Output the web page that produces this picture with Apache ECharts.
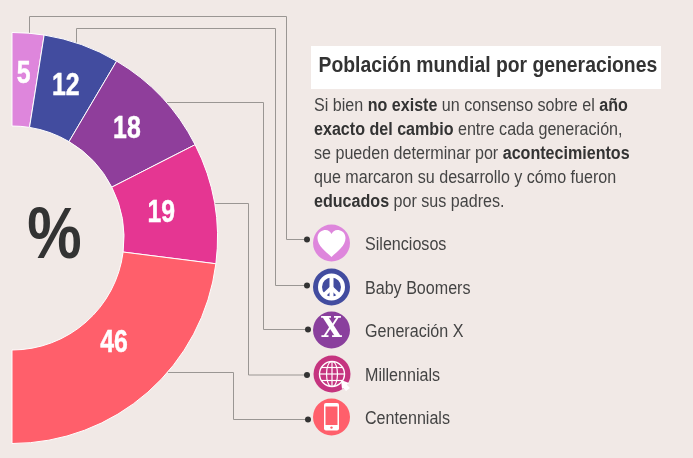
<!DOCTYPE html>
<html><head><meta charset="utf-8">
<style>html,body{margin:0;padding:0;background:#F1E9E6}#c{width:693px;height:458px}</style>
<script src="https://cdn.jsdelivr.net/npm/echarts@6/dist/echarts.min.js"></script>
</head><body><div id="c"></div>
<script>
const categories = ['Silenciosos','Baby Boomers','Generación X','Millennials','Centennials'];
const values = [5,12,18,19,46];
const colors = ['#DE86DC','#424C9F','#8F3E9B','#E53692','#FF5F6B'];
const iconColors = ['#DE86DC','#424C9F','#8A3F9D','#C5347F','#FF5F6B'];
const title = 'Población mundial por generaciones';
const bodyLines = [
 'Si bien {b|no existe} un consenso sobre el {b|año}',
 '{b|exacto del cambio} entre cada generación,',
 'se pueden determinar por {b|acontecimientos}',
 'que marcaron su desarrollo y cómo fueron',
 '{b|educados} por sus padres.'
];
const FONT = '"Liberation Sans",sans-serif';
const labelOffsets = [[-1,-2],[-1,1],[-3,2],[-10,3],[-5,-16]];
const leaders = [
 [[29.5,33],[29.5,16.5],[286.5,16.5],[286.5,239.5],[307,239.5]],
 [[76.5,45],[76.5,28.5],[275.5,28.5],[275.5,285.5],[307,285.5]],
 [[165,102.5],[263.5,102.5],[263.5,329.5],[308,329.5]],
 [[213,203.5],[248.5,203.5],[248.5,375],[307,375]],
 [[168,372.5],[233.5,372.5],[233.5,419.5],[308,419.5]]
];
const iconCentres = [[331.5,243],[331.5,287],[331.5,330],[332,374],[331.5,417]];
const G=echarts.graphic;
G.registerShape('iconHeart',G.extendPath('M0 14 C-6 8 -14 3 -14 -5 C-14 -11 -9 -13 -6 -13 C-3 -13 -1 -11 0 -9 C1 -11 3 -13 6 -13 C9 -13 14 -11 14 -5 C14 3 6 8 0 14Z',{}));
G.registerShape('iconMeridian',G.extendPath('M0 -12.5 C7.3 -12.5 7.3 12.5 0 12.5 C-7.3 12.5 -7.3 -12.5 0 -12.5Z',{}));
G.registerShape('iconCursor',G.extendPath('M9 6 L17 9 L15 11 L18 14 L14 17 L11.5 14 L10 15Z',{}));
const W='#fff';
const line=(x1,y1,x2,y2,lw)=>({type:'line',silent:true,shape:{x1,y1,x2,y2},style:{stroke:W,lineWidth:lw||2}});
const iconParts = [
 (c)=>[{type:'iconHeart',silent:true,shape:{},style:{fill:W}}],
 (c)=>[{type:'circle',silent:true,shape:{cx:0,cy:0,r:11.5},style:{fill:'none',stroke:W,lineWidth:4}},line(0,-12,0,12,4),line(0,1,-8.5,9,4),line(0,1,8.5,9,4)],
 (c)=>[{type:'text',silent:true,style:{text:'X',x:0,y:0,align:'center',verticalAlign:'middle',fill:W,font:'bold 27px "DejaVu Serif"'}}],
 (c)=>[{type:'circle',silent:true,shape:{cx:0,cy:0,r:12.5},style:{fill:'none',stroke:W,lineWidth:1.4}},
       {type:'iconMeridian',silent:true,shape:{},style:{fill:'none',stroke:W,lineWidth:1.2}},
       line(0,-12.5,0,12.5,1.2),line(-12.5,0,12.5,0,1.2),line(-10.5,-6.5,10.5,-6.5,1.2),line(-10.5,6.5,10.5,6.5,1.2),
       {type:'iconCursor',silent:true,shape:{},style:{fill:W}}],
 (c)=>[{type:'rect',silent:true,shape:{x:-7.5,y:-14,width:15,height:27.5,r:2},style:{fill:W}},
       {type:'rect',silent:true,shape:{x:-6,y:-10.5,width:12,height:18.5},style:{fill:c}},
       {type:'circle',silent:true,shape:{cx:0,cy:10.6,r:1.2},style:{fill:c}}]
];
const g=[];
g.push({type:'rect',silent:true,shape:{x:311,y:46,width:350,height:43},style:{fill:'#fff'}});
g.push({type:'text',silent:true,x:318.5,y:66,scaleX:0.86,style:{text:title,x:0,y:0,verticalAlign:'middle',fill:'#333',font:'bold 22.5px '+FONT}});
bodyLines.forEach((t,i)=>g.push({type:'text',silent:true,x:314,y:106+i*24,scaleX:0.88,style:{text:t,x:0,y:0,verticalAlign:'middle',fill:'#444',font:'18.3px '+FONT,rich:{b:{fontFamily:FONT,fontWeight:'bold',fontSize:18.3,fill:'#333'}}}}));
g.push({type:'text',silent:true,x:54.5,y:238,scaleX:0.85,style:{text:'%',x:0,y:0,align:'center',verticalAlign:'middle',fill:'#333',font:'bold 72px '+FONT}});
leaders.forEach((pts,i)=>{
 g.push({type:'polyline',silent:true,shape:{points:pts},style:{fill:'none',stroke:'#9A9693',lineWidth:1}});
 const e=pts[pts.length-1];
 g.push({type:'circle',silent:true,shape:{cx:e[0],cy:e[1],r:3},style:{fill:'#333'}});
});
categories.forEach((n,i)=>{
 const [x,y]=iconCentres[i];
 g.push({type:'group',x,y,silent:true,children:[{type:'circle',silent:true,shape:{cx:0,cy:0,r:18.5},style:{fill:iconColors[i]}}].concat(iconParts[i](iconColors[i]))});
 g.push({type:'text',silent:true,x:365,y:y+1.5,scaleX:0.88,style:{text:n,x:0,y:0,verticalAlign:'middle',fill:'#444',font:'18.3px '+FONT}});
});
const chart=echarts.init(document.getElementById('c'),null,{renderer:'canvas'});
chart.setOption({
 animation:false,
 backgroundColor:'#F1E9E6',
 series:[{
  type:'pie',silent:true,center:[12,238],radius:[112,205.5],
  startAngle:90,endAngle:-90,clockwise:true,sort:null,
  avoidLabelOverlap:false,
  itemStyle:{borderColor:'#fff',borderWidth:1},
  labelLine:{show:false},
  label:{show:true,position:'inside',formatter:'{c}',color:'#fff',fontFamily:FONT,fontWeight:'bold',fontSize:31,textBorderColor:'#fff',textBorderWidth:0.5},
  data:categories.map((n,i)=>({name:n,value:values[i],itemStyle:{color:colors[i]},label:{offset:labelOffsets[i]}}))
 }],
 graphic:g
});
// The reference's numerals are condensed: narrow the pie's own labels.
const pieData=chart.getModel().getSeriesByIndex(0).getData();
categories.forEach((n,i)=>{
 const t=pieData.getItemGraphicEl(i).getTextContent();
 if(t){t.scaleX=0.8;t.markRedraw();}
});
chart.getZr().refreshImmediately();
</script></body></html>
